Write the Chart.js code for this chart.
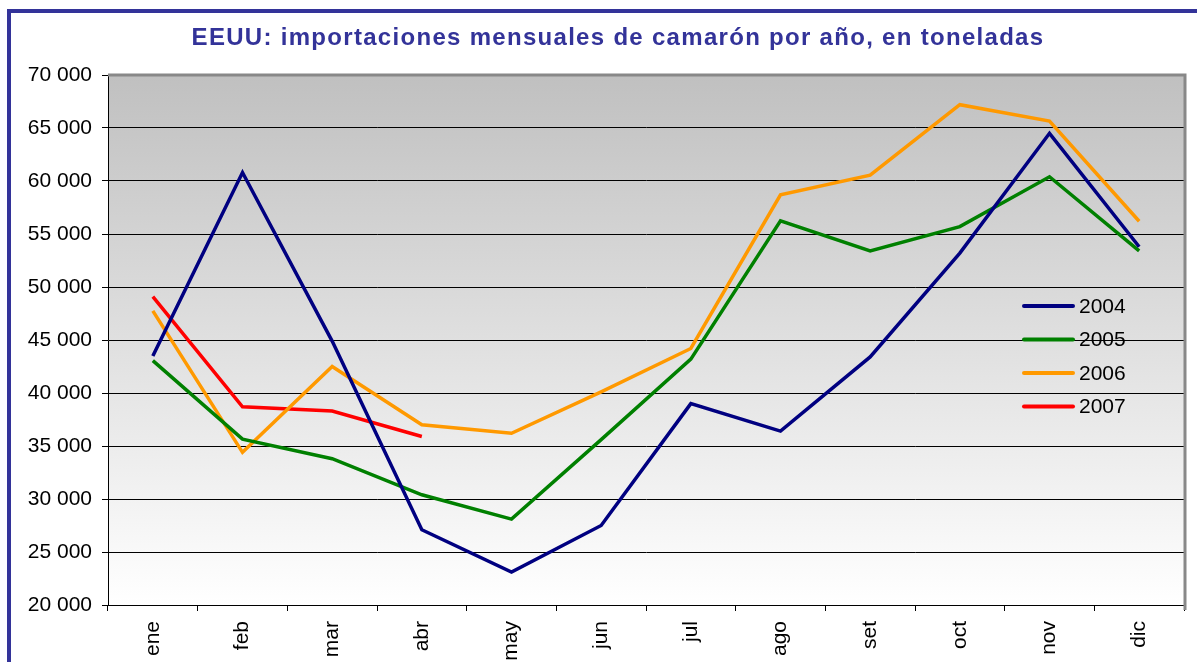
<!DOCTYPE html>
<html>
<head>
<meta charset="utf-8">
<script src="https://cdn.jsdelivr.net/npm/chart.js@4"></script>
<style>
  body { margin: 0; background: #fff; }
  #wrap { position: relative; width: 1197px; height: 662px; overflow: hidden; }
  #frame { position: absolute; left: 7px; top: 9px; width: 1300px; height: 800px; border: 4px solid #333399; }
  #chart1 { position: absolute; left: 0; top: 0; }
</style>
</head>
<body>
<div id="wrap">
  <div id="frame"></div>
  <canvas id="chart1" width="1197" height="662"></canvas>
</div>
<script>
const titleText = 'EEUU: importaciones mensuales de camarón por año, en toneladas';
const months = ['ene', 'feb', 'mar', 'abr', 'may', 'jun', 'jul', 'ago', 'set', 'oct', 'nov', 'dic'];

const years = ['2004', '2005', '2006', '2007'];
const colors = ['#000080', '#008000', '#FF9900', '#FF0000'];

const data2004 = [43500, 60800, 44900, 27100, 23100, 27500, 39000, 36400, 43400, 53200, 64500, 53800];
const data2005 = [43050, 35650, 33800, 30400, 28100, 35600, 43200, 56250, 53400, 55700, 60400, 53400];
const data2006 = [47750, 34400, 42500, 37000, 36200, 40100, 44200, 58700, 60550, 67200, 65650, 56200];
const data2007 = [49100, 38700, 38300, 35900];

const yTicks = { min: 20000, max: 70000, step: 5000 };

function fmt(v) {
  return String(v).replace(/\B(?=(\d{3})+(?!\d))/g, ' ');
}

// gradient behind the plot, gray frame, title and the legend inside the plot
const decorPlugin = {
  id: 'decor',
  beforeDraw(chart) {
    const { ctx, chartArea: a } = chart;
    const g = ctx.createLinearGradient(0, a.top, 0, a.bottom);
    g.addColorStop(0, '#c0c0c0');
    g.addColorStop(1, '#ffffff');
    ctx.save();
    ctx.fillStyle = g;
    ctx.fillRect(a.left, a.top, a.right - a.left, a.bottom - a.top);
    ctx.restore();
  },
  afterDraw(chart) {
    const { ctx, chartArea: a } = chart;
    ctx.save();
    ctx.strokeStyle = '#888888';
    ctx.lineWidth = 3;
    ctx.beginPath();
    ctx.moveTo(a.left, a.top);
    ctx.lineTo(a.right + 1, a.top);
    ctx.lineTo(a.right + 1, a.bottom + 5);
    ctx.stroke();

    ctx.fillStyle = '#333399';
    ctx.font = 'bold 24px "Liberation Sans", Arial, sans-serif';
    ctx.letterSpacing = '1.3px';
    ctx.textAlign = 'center';
    ctx.textBaseline = 'alphabetic';
    ctx.fillText(titleText, 618, 45);
    ctx.letterSpacing = '0px';

    ctx.font = '21px "Liberation Sans", Arial, sans-serif';
    ctx.textAlign = 'left';
    ctx.textBaseline = 'middle';
    chart.data.datasets.forEach((ds, i) => {
      const y = 306 + i * 33.5;
      ctx.strokeStyle = ds.borderColor;
      ctx.lineWidth = 4;
      ctx.lineCap = 'round';
      ctx.beginPath();
      ctx.moveTo(1024, y);
      ctx.lineTo(1073, y);
      ctx.stroke();
      ctx.fillStyle = '#000';
      ctx.fillText(ds.label, 1079, y + 1);
    });
    ctx.restore();
  }
};

const seriesData = [data2004, data2005, data2006, data2007];

new Chart(document.getElementById('chart1'), {
  type: 'line',
  data: {
    labels: months,
    datasets: years.map((y, i) => ({
      label: y,
      data: seriesData[i],
      borderColor: colors[i],
      backgroundColor: colors[i],
      borderWidth: 3.5,
      pointRadius: 0,
      tension: 0,
      fill: false
    }))
  },
  options: {
    responsive: false,
    animation: false,
    layout: { padding: { top: 75, right: 13, left: 0, bottom: 0 } },
    plugins: {
      legend: { display: false },
      title: { display: false },
      tooltip: { enabled: false }
    },
    scales: {
      x: {
        offset: true,
        afterFit: (s) => { s.height = 57; },
        grid: { offset: true, drawOnChartArea: false, drawTicks: true, tickLength: 6, color: '#000' },
        border: { color: '#000', width: 1 },
        ticks: {
          minRotation: 90, maxRotation: 90, padding: 10,
          color: '#000',
          font: { family: '"Liberation Sans", Arial, sans-serif', size: 21 }
        }
      },
      y: {
        min: yTicks.min, max: yTicks.max,
        afterFit: (s) => { s.width = 108; },
        grid: { color: '#000', lineWidth: 1, tickLength: 6, drawTicks: true },
        border: { color: '#000', width: 1 },
        ticks: {
          stepSize: yTicks.step, padding: 10,
          color: '#000',
          font: { family: '"Liberation Sans", Arial, sans-serif', size: 21 },
          callback: (v) => fmt(v)
        }
      }
    }
  },
  plugins: [decorPlugin]
});
</script>
</body>
</html>
